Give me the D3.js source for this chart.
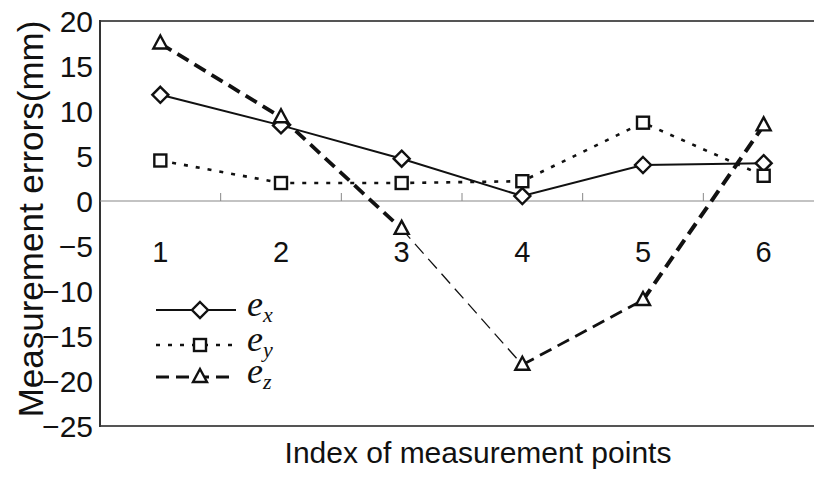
<!DOCTYPE html>
<html lang="en">
<head>
<meta charset="UTF-8">
<title></title>
<style>
    body { margin: 0; background: #fff; }
    .chart text { font-family: "Liberation Sans", Arial, sans-serif; fill: #111; }
    .chart .leg { font-family: "Liberation Serif", "Times New Roman", serif; font-style: italic; }
</style>
</head>
<body>
<svg class="chart"></svg>
<script src="https://cdn.jsdelivr.net/npm/d3@7"></script>
<script>

    var categories = ["1", "2", "3", "4", "5", "6"];
    var ex = [11.8, 8.4, 4.7, 0.55, 4.0, 4.2];
    var ey = [4.5, 2.0, 2.0, 2.2, 8.7, 2.8];
    var ez = [17.5, 9.3, -3.1, -18.2, -11.0, 8.4];
    var yTicks = [20, 15, 10, 5, 0, -5, -10, -15, -20, -25];
    var seriesNames = ["x", "y", "z"];

    var width = 814, height = 478;
    var plotLeft = 100, plotTop = 21, plotBottom = 426, plotRight = 824;

    var svg = d3.select(".chart").attr("width", width).attr("height", height);

    var x = d3.scaleBand().domain(categories).range([plotLeft, plotRight]);
    var y = d3.scaleLinear().domain([-25, 20]).range([plotBottom, plotTop]);
    var cx = function (i) { return x(categories[i]) + x.bandwidth() / 2; };

    // frame (top, bottom, left); the right side runs off the picture
    svg.append("line").attr("x1", plotLeft).attr("x2", width).attr("y1", plotTop).attr("y2", plotTop)
        .attr("stroke", "#555").attr("stroke-width", 2);
    svg.append("line").attr("x1", plotLeft).attr("x2", width).attr("y1", plotBottom).attr("y2", plotBottom)
        .attr("stroke", "#555").attr("stroke-width", 2);
    svg.append("line").attr("x1", plotLeft).attr("x2", plotLeft).attr("y1", plotTop - 1).attr("y2", plotBottom + 1)
        .attr("stroke", "#333").attr("stroke-width", 2);

    // zero line with small category dividers
    svg.append("line").attr("x1", plotLeft).attr("x2", width).attr("y1", y(0)).attr("y2", y(0))
        .attr("stroke", "#888").attr("stroke-width", 1.2);
    svg.selectAll(".div").data(categories.slice(1)).enter().append("line")
        .attr("x1", function (d) { return x(d); }).attr("x2", function (d) { return x(d); })
        .attr("y1", y(0) - 8).attr("y2", y(0))
        .attr("stroke", "#888").attr("stroke-width", 1);

    // y tick labels
    svg.selectAll(".yt").data(yTicks).enter().append("text")
        .attr("x", plotLeft - 7).attr("y", function (d) { return y(d); })
        .attr("dy", "0.36em").attr("text-anchor", "end").attr("font-size", 30)
        .text(function (d) { return d < 0 ? "\u2212" + Math.abs(d) : d; });

    // category labels under the zero line
    svg.selectAll(".xt").data(categories).enter().append("text")
        .attr("x", function (d) { return x(d) + x.bandwidth() / 2; })
        .attr("y", y(0) + 51).attr("dy", "0.36em")
        .attr("text-anchor", "middle").attr("font-size", 29)
        .text(function (d) { return d; });

    svg.append("text").attr("x", 478).attr("y", 463).attr("text-anchor", "middle")
        .attr("font-size", 30).text("Index of measurement points");
    svg.append("text").attr("transform", "translate(43," + 219 + ") rotate(-90)")
        .attr("text-anchor", "middle").attr("font-size", 35).text("Measurement errors(mm)");

    var line = d3.line().x(function (d, i) { return cx(i); }).y(function (d) { return y(d); });

    svg.append("path").datum(ex).attr("d", line).attr("fill", "none")
        .attr("stroke", "#111").attr("stroke-width", 2);
    svg.append("path").datum(ey).attr("d", line).attr("fill", "none")
        .attr("stroke", "#111").attr("stroke-width", 2.6).attr("stroke-dasharray", "4,8");

    // e_z drawn segment by segment, stroke weight varies along the line
    var ezWidth = [3.8, 3.8, 1.3, 2.8, 4];
    ez.slice(1).forEach(function (v, i) {
        svg.append("line")
            .attr("x1", cx(i)).attr("y1", y(ez[i]))
            .attr("x2", cx(i + 1)).attr("y2", y(v))
            .attr("stroke", "#111").attr("stroke-width", ezWidth[i])
            .attr("stroke-dasharray", "13,7");
    });

    function marker(g, type, px, py) {
        if (type === "x") {
            g.append("path").attr("d", "M" + px + "," + (py - 8) + "L" + (px + 8) + "," + py +
                "L" + px + "," + (py + 8) + "L" + (px - 8) + "," + py + "Z")
                .attr("fill", "#fff").attr("stroke", "#111").attr("stroke-width", 2.4);
        } else if (type === "y") {
            g.append("rect").attr("x", px - 6).attr("y", py - 6).attr("width", 12).attr("height", 12)
                .attr("fill", "#fff").attr("stroke", "#111").attr("stroke-width", 2.4);
        } else {
            g.append("path").attr("d", "M" + px + "," + (py - 8) + "L" + (px + 7) + "," + (py + 5) +
                "L" + (px - 7) + "," + (py + 5) + "Z")
                .attr("fill", "#fff").attr("stroke", "#111").attr("stroke-width", 2.4);
        }
    }

    var marks = svg.append("g");
    [ex, ey, ez].forEach(function (s, k) {
        s.forEach(function (v, i) { marker(marks, seriesNames[k], cx(i), y(v)); });
    });

    // legend
    var legY = [310, 345, 377];
    var legDash = [null, "4,8", "13,7"];
    var legW = [2, 2.6, 3];
    var lg = svg.append("g");
    seriesNames.forEach(function (n, k) {
        lg.append("line").attr("x1", 156).attr("x2", 236).attr("y1", legY[k]).attr("y2", legY[k])
            .attr("stroke", "#111").attr("stroke-width", legW[k])
            .attr("stroke-dasharray", legDash[k]);
        marker(lg, n, 200, legY[k]);
        var t = lg.append("text").attr("class", "leg").attr("x", 247).attr("y", legY[k] + 6)
            .attr("font-size", 36).text("e");
        t.append("tspan").attr("font-size", 22).attr("dy", 6).text(n);
    });

</script>
</body>
</html>
